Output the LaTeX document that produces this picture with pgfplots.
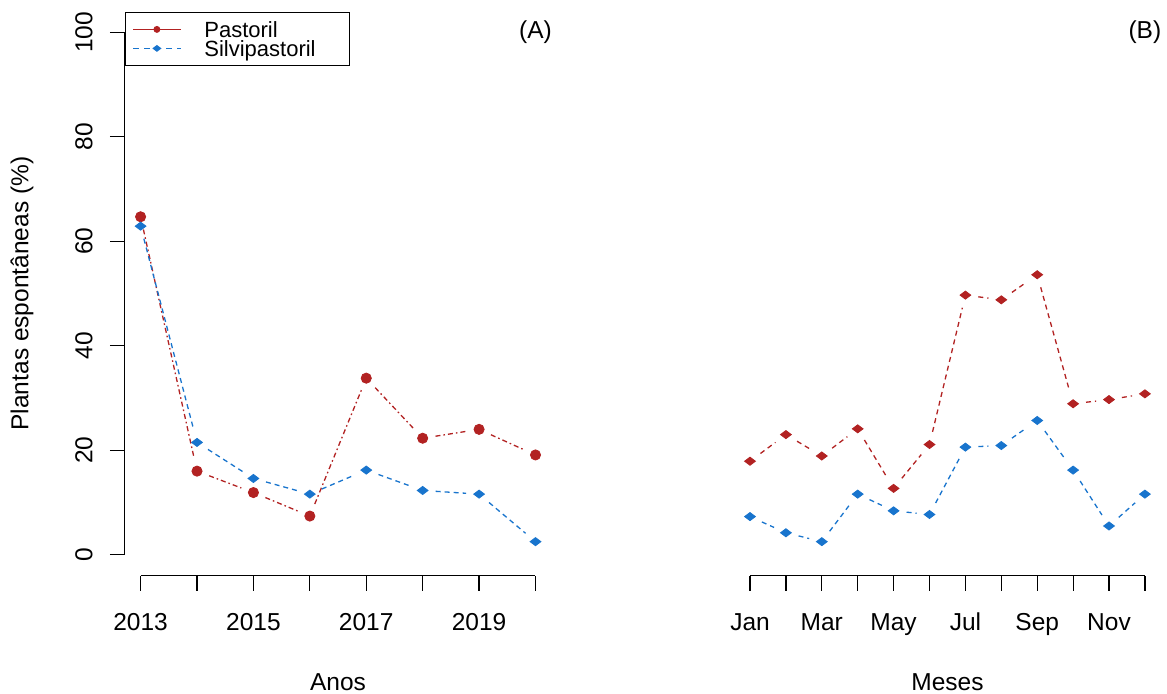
\documentclass[border=0pt]{standalone}
\usepackage{pgfplots}
\usepackage{pgfplotstable}
\pgfplotsset{compat=1.18}
\usepackage{fontspec}
\setmainfont{Liberation Sans}
\definecolor{cred}{RGB}{178,34,34}
\definecolor{cblue}{RGB}{24,116,205}

\pgfplotstableread{
x r b
2013 64.7 62.9
2014 16.0 21.5
2015 11.9 14.6
2016 7.4 11.6
2017 33.8 16.2
2018 22.3 12.3
2019 24.0 11.6
2020 19.1 2.5
}\tabA

\pgfplotstableread{
x r b
1 17.9 7.3
2 23.0 4.2
3 18.9 2.5
4 24.1 11.6
5 12.7 8.4
6 21.1 7.7
7 49.7 20.6
8 48.8 20.9
9 53.6 25.7
10 28.9 16.2
11 29.7 5.5
12 30.8 11.6
}\tabB

\newcommand{\mainfs}{\fontsize{12.25}{14}\selectfont}
\pgfplotsset{
  rstyle/.style={
    scale only axis,
    width=213.25pt, height=282.05pt,
    ymin=-4, ymax=104,
    clip=false,
    axis x line*=bottom, axis y line*=left,
    axis line style={draw=none},
    tick style={draw=black, line width=0.6pt, solid},
    tick align=outside,
    major tick length=7.5pt,
    /pgf/number format/assume math mode=true,
    ticklabel style={font=\mainfs},
    label style={font=\mainfs},
    xticklabel style={anchor=base, yshift=-20.1pt},
  },
  seg/.style={line width=0.65pt, shorten <=6.5pt, shorten >=6.5pt, no marks, forget plot},
  redA/.style={seg, cred, dash pattern=on 2.5pt off 1.5pt on 0.8pt off 1.5pt},
  blueA/.style={seg, cblue, dash pattern=on 2.5pt off 2pt},
  redB/.style={seg, cred, dash pattern=on 2.5pt off 2pt},
  blueB/.style={seg, cblue, dash pattern=on 2.5pt off 2pt},
}
\begin{document}
\begin{tikzpicture}
\useasboundingbox (0,0) rectangle (583.5pt,346.5pt);
% ---------------- Panel A ----------------
\begin{axis}[rstyle, at={(62.4pt,58.7pt)}, anchor=south west,
  xmin=2012.72, xmax=2020.28,
  xtick={2013,...,2020}, xticklabels={2013,,2015,,2017,,2019,},
  ytick={0,20,...,100}, yticklabels={0,20,40,60,80,100},
  yticklabel style={xshift=-13pt, rotate=90, anchor=center},
  xlabel={Anos},
  xlabel style={at={(axis description cs:0.5,-0.1886)}, anchor=center},
  ylabel={Plantas espontâneas (\%)},
  ylabel style={at={(axis description cs:-0.241,0.5)}, anchor=center, rotate=0},
  legend style={at={(rel axis cs:0,1)}, anchor=north west, draw=black, line width=0.6pt,
    font=\fontsize{11}{11}\selectfont, inner xsep=0pt, inner ysep=3.9pt,
    row sep=0pt, column sep=0pt,
    nodes={inner sep=0pt, text height=8.65pt, text depth=0.85pt},
    cells={anchor=west}},
]
\draw[black, line width=0.6pt] (axis cs:2013,-4) -- (axis cs:2020,-4);
\draw[black, line width=0.6pt] (axis cs:2012.72,0) -- (axis cs:2012.72,100);
\pgfplotsinvokeforeach{2012.9:2014.1,2013.9:2015.1,2014.9:2016.1,2015.9:2017.1,2016.9:2018.1,2017.9:2019.1,2018.9:2020.1}{
  \addplot[redA, restrict x to domain=#1] table[x=x,y=r] {\tabA};
  \addplot[blueA, restrict x to domain=#1] table[x=x,y=b] {\tabA};
}
\addplot[only marks, mark=*, mark size=2.55pt, color=cred,
  legend image code/.code={
    \path[draw=none, fill=none] (0pt,0pt) -- (39.5pt,0pt);
    \draw[cred, line width=0.65pt, solid] (3.85pt,0pt) -- (27.65pt,0pt);
    \draw[cred, only marks, mark=*, mark size=1.4pt, mark options={solid}]
      plot coordinates {(15.75pt,0pt)};
  }] table[x=x,y=r] {\tabA};
\addlegendentry{\makebox[72.5pt][l]{Pastoril}}
\addplot[only marks, mark=diamond*, mark size=2.7pt, color=cblue, mark options={rotate=90},
  legend image code/.code={
    \path[draw=none, fill=none] (0pt,0pt) -- (39.5pt,0pt);
    \draw[cblue, line width=0.65pt, dash pattern=on 3pt off 2.5pt]
      (3.85pt,0pt) -- (27.65pt,0pt);
    \draw[cblue, only marks, mark=diamond*, mark size=1.8pt, mark options={rotate=90,solid}]
      plot coordinates {(15.75pt,0pt)};
  }] table[x=x,y=b] {\tabA};
\addlegendentry{\makebox[72.5pt][l]{Silvipastoril}}
\node[font=\mainfs, anchor=center] at (axis cs:2020,100) {(A)};
\end{axis}
% ---------------- Panel B ----------------
\begin{axis}[rstyle, at={(367.1pt,58.7pt)}, anchor=south west,
  xmin=0.56, xmax=12.44,
  hide y axis,
  xtick={1,...,12}, xticklabels={Jan,,Mar,,May,,Jul,,Sep,,Nov,},
  xlabel={Meses},
  xlabel style={at={(axis description cs:0.5,-0.1886)}, anchor=center},
]
\draw[black, line width=0.6pt] (axis cs:1,-4) -- (axis cs:12,-4);
\pgfplotsinvokeforeach{0.9:2.1,1.9:3.1,2.9:4.1,3.9:5.1,4.9:6.1,5.9:7.1,6.9:8.1,7.9:9.1,8.9:10.1,9.9:11.1,10.9:12.1}{
  \addplot[redB, restrict x to domain=#1] table[x=x,y=r] {\tabB};
  \addplot[blueB, restrict x to domain=#1] table[x=x,y=b] {\tabB};
}
\addplot[only marks, mark=diamond*, mark size=2.7pt, color=cred, mark options={rotate=90}] table[x=x,y=r] {\tabB};
\addplot[only marks, mark=diamond*, mark size=2.7pt, color=cblue, mark options={rotate=90}] table[x=x,y=b] {\tabB};
\node[font=\mainfs, anchor=center] at (axis cs:12,100) {(B)};
\end{axis}
\end{tikzpicture}
\end{document}
